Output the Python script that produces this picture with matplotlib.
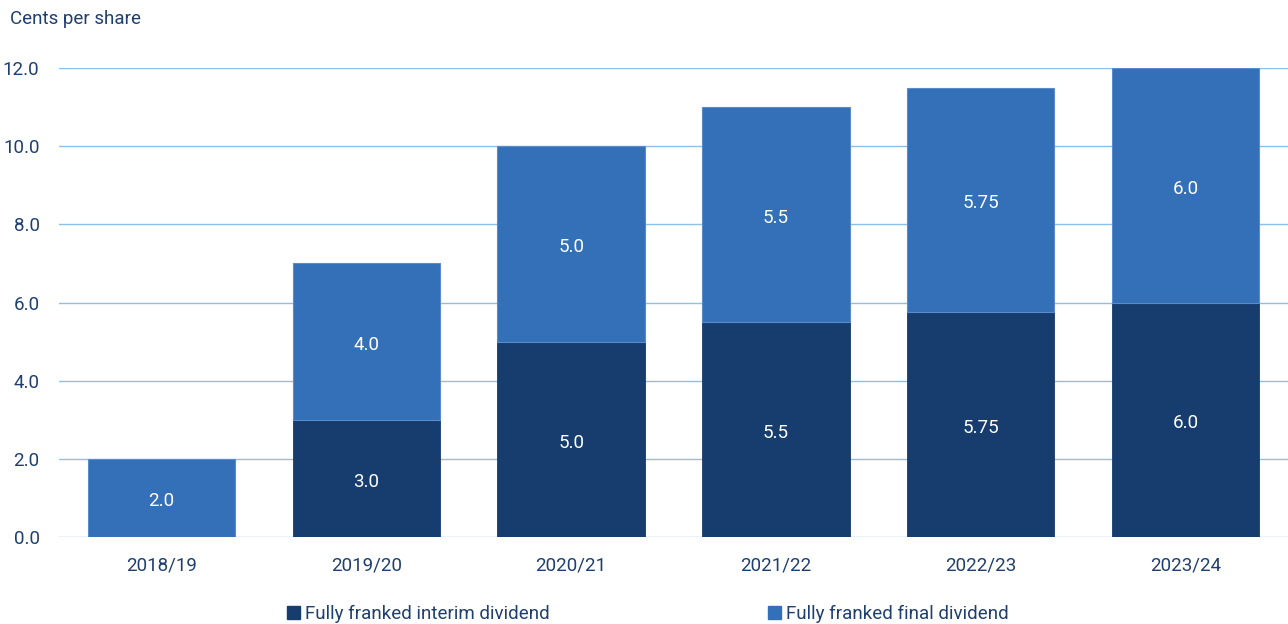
import matplotlib.pyplot as plt
import numpy as np
from matplotlib.patches import Patch

plt.rcParams['font.family'] = ['Roboto', 'DejaVu Sans']

# data
years = ["2018/19", "2019/20", "2020/21", "2021/22", "2022/23", "2023/24"]
interim = [0.0, 3.0, 5.0, 5.5, 5.75, 6.0]
final = [2.0, 4.0, 5.0, 5.5, 5.75, 6.0]

dark = '#173c6e'
light = '#3370b7'
grid_c = '#8cc0e8'
text_c = '#1f3f6e'
fs = 13.5


def fmt(v):
    return f"{v:.2f}" if round(v, 1) != v else f"{v:.1f}"


fig = plt.figure(figsize=(12.88, 6.24), dpi=100)
ax = fig.add_axes([59 / 1288, 87 / 624, 1 - 59 / 1288, (537 - 68) / 624])

x = np.arange(len(years))
w = 0.72
ax.bar(x, interim, w, color=dark, edgecolor=dark, linewidth=0.6, zorder=3)
ax.bar(x, final, w, bottom=interim, color=light, edgecolor='#5a8ccc', linewidth=0.8, zorder=3)

# labels inside segments
for i in range(len(years)):
    if interim[i] > 0:
        ax.annotate(fmt(interim[i]), (x[i], interim[i] / 2), xytext=(0, -2.5),
                    textcoords='offset points', ha='center', va='center',
                    color='white', fontsize=fs, zorder=4)
    ax.annotate(fmt(final[i]), (x[i], interim[i] + final[i] / 2), xytext=(0, -2.5),
                textcoords='offset points', ha='center', va='center',
                color='white', fontsize=fs, zorder=4)

ax.set_xlim(-0.5, len(years) - 0.5)
ax.set_ylim(0, 12)
ax.set_yticks(np.arange(0, 12.1, 2))
ax.set_yticklabels([f"{t:.1f}" for t in np.arange(0, 12.1, 2)])
ax.set_xticks(x)
ax.set_xticklabels(years)
ax.tick_params(axis='both', length=0, labelsize=fs, labelcolor=text_c)
ax.tick_params(axis='y', pad=14)
ax.tick_params(axis='x', pad=14)
ax.grid(axis='y', color=grid_c, linewidth=1, zorder=0)
ax.set_axisbelow(True)
for s in ax.spines.values():
    s.set_visible(False)

fig.text(10 / 1288, 1 - 19 / 624, "Cents per share", ha='left', va='center',
         fontsize=fs, color=text_c)

handles = [Patch(color=dark), Patch(color=light)]
fig.legend(handles, ["Fully franked interim dividend", "Fully franked final dividend"],
           loc='center', bbox_to_anchor=(648 / 1288, 1 - 614 / 624), ncol=2,
           frameon=False, fontsize=fs, labelcolor=text_c,
           handlelength=0.7, handleheight=0.7, handletextpad=0.3, columnspacing=11.6)

fig.savefig('out.png', dpi=100)
